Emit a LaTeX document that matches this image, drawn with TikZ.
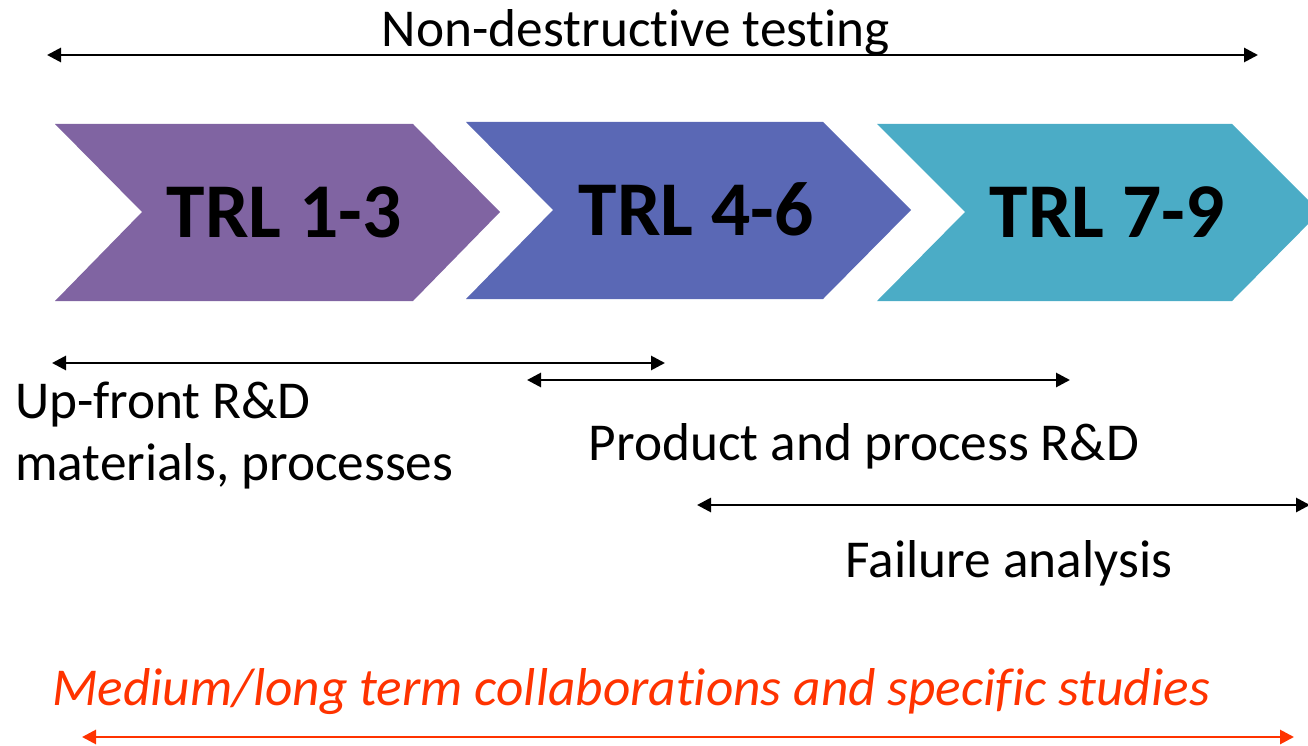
\documentclass[tikz,border=0pt]{standalone}
\usepackage{fontspec}
\setmainfont{Carlito}[Ligatures=CommonOff]
\usepackage{tikz}
\usetikzlibrary{arrows.meta}
\definecolor{trlpurple}{RGB}{128, 100, 162}
\definecolor{trlblue}{RGB}{90, 104, 181}
\definecolor{trlteal}{RGB}{75, 172, 198}
\definecolor{collabred}{RGB}{255, 51, 0}

\begin{document}
\begin{tikzpicture}[x=1pt, y=-1pt,
    span/.style={{Triangle[length=14pt, width=14pt]}-{Triangle[length=14pt, width=14pt]}, line width=2.8pt},
    lab/.style={font=\fontsize{53.3}{60}\selectfont, inner sep=0pt},
    trl/.style={font=\fontsize{77.5}{90}\selectfont\bfseries, inner sep=0pt}]
        \clip (0,0) rectangle (1308,746);

        % 三个阶段
        \fill[trlpurple] (55,124) -- (413,124) -- (500,212) -- (413,301) -- (55,301) -- (142,212) -- cycle;
        \fill[trlblue] (466,122) -- (823,122) -- (911,210) -- (823,299) -- (466,299) -- (553,210) -- cycle;
        \fill[trlteal] (877,124) -- (1232,124) -- (1320,212) -- (1232,301) -- (877,301) -- (965,212) -- cycle;
        \node[trl, anchor=base] (trlA) at (284,237) {TRL 1-3};
        \node[trl, anchor=base] (trlB) at (696,235) {TRL 4-6};
        \node[trl, anchor=base] (trlC) at (1107,237) {TRL 7-9};

        % 无损检测
        \node[lab, anchor=base] (ndt) at (636,47) {Non-destructive testing};
        \coordinate (ndtL) at (47,55);
        \coordinate (ndtR) at (1258,55);
        \draw[span] (ndtL) -- (ndtR);

        % 前期研发
        \coordinate (upL) at (52,363);
        \coordinate (upR) at (665,363);
        \draw[span] (upL) -- (upR);
        \node[lab, anchor=base west] (up) at (15,418) {Up-front R\&D};
        \node[lab, anchor=base west] (mat) at (15,480) {materials, processes};

        % 产品与工艺研发
        \coordinate (prodL) at (527,380);
        \coordinate (prodR) at (1070,380);
        \draw[span] (prodL) -- (prodR);
        \node[lab, anchor=base] (prod) at (864,460) {Product and process R\&D};

        % 失效分析
        \coordinate (failL) at (697,505);
        \coordinate (failR) at (1310,505);
        \draw[span] (failL) -- (failR);
        \node[lab, anchor=base] (fail) at (1009,577) {Failure analysis};

        % 合作
        \node[lab, anchor=base west, collabred, font=\fontsize{53.3}{60}\selectfont\itshape] (collab) at (52,705) {Medium/long term collaborations and specific studies};
        \coordinate (colL) at (82,737);
        \coordinate (colR) at (1294,737);
        \draw[span, collabred] (colL) -- (colR);
    \end{tikzpicture}
\end{document}
